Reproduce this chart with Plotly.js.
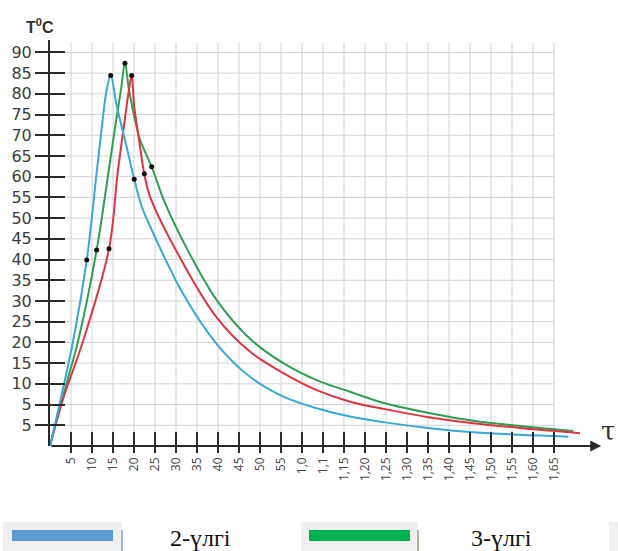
<!DOCTYPE html>
<html>
<head>
<meta charset="utf-8">
<script src="https://cdn.plot.ly/plotly-3.0.1.min.js"></script>
<style>html,body{margin:0;padding:0;background:#fff;}#chart{width:618px;height:551px;}</style>
</head>
<body>
<div id="chart"></div>
<script>
// ---- tick labels (categories along the time axis, temperature labels) ----
const xTickLabels = ['5','10','15','20','25','30','35','40','45','50','55','1,0','1,1','1,15','1,20','1,25','1,30','1,35','1,40','1,45','1,50','1,55','1,60','1,65'];
const yTickValues = [0,5,10,15,20,25,30,35,40,45,50,55,60,65,70,75,80,85,90];
const yTickLabels = ['5','5','10','15','20','25','30','35','40','45','50','55','60','65','70','75','80','85','90'];

// ---- series (x = position along time axis in tick steps, y = temperature) ----
const seriesNames = ['2-үлгі', '3-үлгі', '1-үлгі'];

const blueX = [0, 1.11, 1.75, 2.22, 2.49, 2.70, 2.89, 3.18, 3.57, 4.01, 4.37, 4.76, 6.35, 7.94, 9.52, 11.11, 12.70, 14.29, 15.95, 18.10, 20.16, 22.38, 24.68];
const blueY = [-5, 20.6, 39.9, 60.9, 73.0, 81.0, 84.4, 77.0, 68.9, 59.4, 52.8, 48.1, 31.6, 19.6, 11.7, 6.9, 4.1, 2.1, 0.7, -0.7, -1.7, -2.3, -2.75];

const greenX = [0, 0.79, 1.35, 2.22, 2.78, 3.13, 3.38, 3.57, 3.76, 4.08, 4.29, 4.84, 5.48, 6.35, 7.94, 9.52, 11.11, 12.70, 14.29, 15.95, 18.10, 20.16, 22.38, 24.92];
const greenY = [-5, 10.1, 20.6, 42.3, 60.9, 73.0, 81.0, 87.4, 81.0, 73.0, 68.9, 62.4, 53.6, 44.3, 30.2, 20.9, 15.0, 10.9, 8.1, 5.3, 2.9, 1.1, -0.2, -1.4];

const redX = [0, 0.56, 1.59, 2.81, 3.22, 3.54, 3.76, 3.89, 4.01, 4.24, 4.49, 4.76, 6.35, 7.94, 9.52, 11.11, 12.70, 14.29, 15.95, 18.10, 20.16, 22.38, 25.24];
const redY = [-5, 5.4, 20.6, 42.6, 60.9, 73.0, 81.0, 84.4, 77.0, 68.9, 60.7, 55.2, 39.0, 26.0, 17.8, 12.6, 8.5, 5.7, 3.9, 1.9, 0.5, -0.65, -1.9];

// marked measurement points
const blueDotX = [1.75, 2.89, 4.01];  const blueDotY = [39.9, 84.4, 59.4];
const greenDotX = [2.22, 3.57, 4.84]; const greenDotY = [42.3, 87.4, 62.4];
const redDotX = [2.81, 3.89, 4.49];   const redDotY = [42.6, 84.4, 60.7];

// ---- styling ----
const C_BLUE = '#38a8d6', C_GREEN = '#2f9e52', C_RED = '#dc3540';
const AX = '#2a2a2a', GRID = '#d2d2d2';

const xTickVals = xTickLabels.map((_, i) => i + 1);
const yMin = -5, yTop = 92.3, xLast = xTickVals[xTickVals.length - 1];

function line(x, y, color, name) {
  return {x, y, type:'scatter', mode:'lines', name, showlegend:false, hoverinfo:'skip',
          line:{color, width:2, shape:'spline', smoothing:1}};
}
function dots(x, y) {
  return {x, y, xaxis:'x2', yaxis:'y2', type:'scatter', mode:'markers', showlegend:false, hoverinfo:'skip',
          marker:{color:'#111', size:5}};
}

const traces = [
  line(greenX, greenY, C_GREEN, seriesNames[1]),
  line(redX, redY, C_RED, seriesNames[2]),
  line(blueX, blueY, C_BLUE, seriesNames[0]),
  dots(greenDotX, greenDotY), dots(redDotX, redDotY), dots(blueDotX, blueDotY)
];

const shapes = [];
// grid
xTickVals.forEach(v => shapes.push({type:'line', xref:'x', yref:'y', x0:v, x1:v, y0:yMin, y1:yTop, layer:'below', line:{color:GRID, width:1}}));
yTickValues.forEach(v => shapes.push({type:'line', xref:'x', yref:'y', x0:0, x1:xLast, y0:v, y1:v, layer:'below', line:{color:GRID, width:1}}));

// legend (drawn as button-like boxes below the chart)
const L = 50, W = 558, B = 446, H = 406;
const px = p => (p - L) / W, py = p => (B - p) / H;
function legendBox(x0, x1, barX0, barX1, color, shadow) {
  shapes.push({type:'rect', xref:'paper', yref:'paper', x0:px(x0), x1:px(x1), y0:py(560), y1:py(522), fillcolor:'#f0f0f0', line:{width:0}});
  shapes.push({type:'line', xref:'paper', yref:'paper', x0:px(x1), x1:px(x1), y0:py(560), y1:py(530), line:{color:shadow, width:2}});
  shapes.push({type:'rect', xref:'paper', yref:'paper', x0:px(barX0), x1:px(barX1), y0:py(541), y1:py(530), fillcolor:color, line:{width:0}});
}
legendBox(3, 122, 12, 113, '#5b9bd5', '#a5b6cc');
legendBox(301, 418, 309, 410, '#00b050', '#a9b79c');
shapes.push({type:'rect', xref:'paper', yref:'paper', x0:px(609), x1:px(640), y0:py(560), y1:py(522), fillcolor:'#f0f0f0', line:{width:0}});

const annotations = [
  // x axis with arrow
  {xref:'x', yref:'y', x:26.25, y:yMin, axref:'x', ayref:'y', ax:0, ay:yMin, text:'', showarrow:true,
   arrowhead:2, arrowsize:1.1, arrowwidth:2, arrowcolor:AX, standoff:0, startstandoff:0},
  {xref:'paper', yref:'paper', x:px(24), y:py(26), xanchor:'left', yanchor:'middle', showarrow:false,
   text:'<b>T<sup>0</sup>C</b>', font:{family:'Liberation Sans, Arial', size:16, color:'#333'}},
  {xref:'paper', yref:'paper', x:px(608), y:py(431), xanchor:'center', yanchor:'middle', showarrow:false,
   text:'τ', font:{family:'DejaVu Serif', size:26, color:'#333'}},
  {xref:'paper', yref:'paper', x:px(200), y:py(538), xanchor:'center', yanchor:'middle', showarrow:false,
   text:seriesNames[0], font:{family:'Liberation Serif, Times New Roman', size:24, color:'#111'}},
  {xref:'paper', yref:'paper', x:px(501), y:py(538), xanchor:'center', yanchor:'middle', showarrow:false,
   text:seriesNames[1], font:{family:'Liberation Serif, Times New Roman', size:24, color:'#111'}}
];

const xRange = [0, W / 21], yRange = [yMin, yMin + H / 4.143];

const layout = {
  width:618, height:551,
  margin:{l:L, r:618 - L - W, t:40, b:105},
  paper_bgcolor:'#fff', plot_bgcolor:'#fff',
  showlegend:false,
  xaxis:{range:xRange, tickmode:'array', tickvals:xTickVals, ticktext:xTickLabels,
         tickangle:-90, ticks:'inside', ticklen:14, tickwidth:2, tickcolor:AX, ticklabelstandoff:8,
         showgrid:false, zeroline:false, showline:false,
         tickfont:{family:'Open Sans, DejaVu Sans', size:12, color:'#444'}},
  yaxis:{range:yRange, tickmode:'array', tickvals:yTickValues, ticktext:yTickLabels,
         ticks:'outside', ticklen:13, tickwidth:2, tickcolor:AX,
         showgrid:false, zeroline:false, showline:true, linecolor:AX, linewidth:2,
         tickfont:{family:'DejaVu Sans', size:16, color:'#3c3c3c'}},
  // overlay axes carrying the other halves of the crossing tick marks
  xaxis2:{overlaying:'x', anchor:'y2', side:'bottom', range:xRange, tickmode:'array', tickvals:xTickVals,
          ticks:'outside', ticklen:6, tickwidth:2, tickcolor:AX, showticklabels:false,
          showgrid:false, zeroline:false, showline:false},
  yaxis2:{overlaying:'y', anchor:'x2', side:'left', range:yRange, tickmode:'array', tickvals:yTickValues,
          ticks:'inside', ticklen:15, tickwidth:2, tickcolor:AX, showticklabels:false,
          showgrid:false, zeroline:false, showline:false},
  shapes, annotations
};

Plotly.newPlot('chart', traces, layout, {displayModeBar:false, staticPlot:true});
</script>
</body>
</html>
